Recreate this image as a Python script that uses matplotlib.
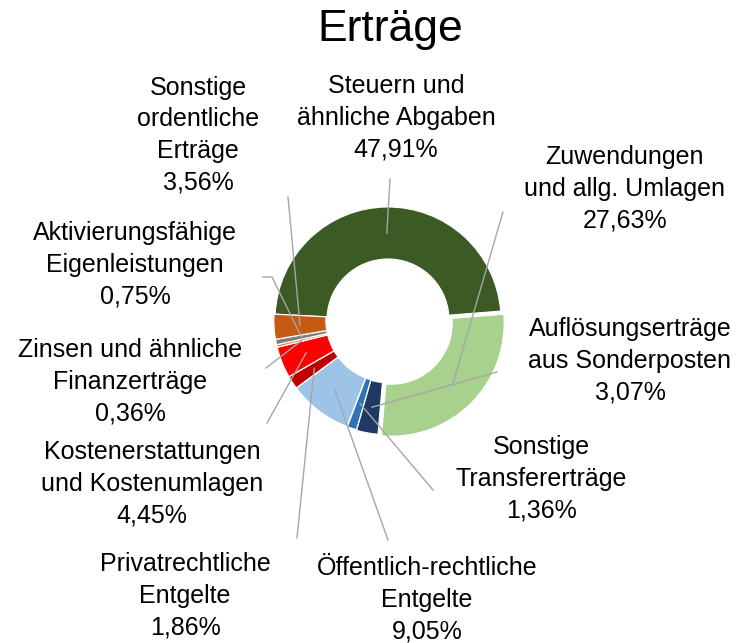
"""Erträge donut chart"""
import matplotlib.pyplot as plt
import numpy as np

plt.rcParams['font.family'] = ['Liberation Sans', 'DejaVu Sans']

# data
labels = ['Steuern und\nähnliche Abgaben',
          'Zuwendungen\nund allg. Umlagen',
          'Auflösungserträge\naus Sonderposten',
          'Sonstige\nTransfererträge',
          'Öffentlich-rechtliche\nEntgelte',
          'Privatrechtliche\nEntgelte',
          'Kostenerstattungen\nund Kostenumlagen',
          'Zinsen und ähnliche\nFinanzerträge',
          'Aktivierungsfähige\nEigenleistungen',
          'Sonstige\nordentliche\nErträge']
values = [47.91, 27.63, 3.07, 1.36, 9.05, 1.86, 4.45, 0.36, 0.75, 3.56]
colors = ['#3B5A24', '#A9D18E', '#1F3864', '#2E75B6', '#9DC3E6',
          '#C00000', '#FF0000', '#ED7D31', '#7F7F7F', '#C55A11']

# layout (pixel positions in a 738x643 canvas)
CX, CY, R = 388, 320, 113
text_pos = [(396, 118), (625, 189), (630, 361), (541, 479), (427, 600),
            (185, 596), (152, 484), (130, 382), (135, 265), (198, 135)]
line_start = [(390, 179), (503, 212), (497, 372), (433, 490), (388, 540),
              (297, 538), (267, 423), (266, 368), (263, 277), (288, 197)]
explode = [0, 0.04, 0.015, 0.01, 0.01, 0.01, 0.01, 0.01, 0.01, 0.01]


def px(x, y):
    return (x - CX) / R, (CY - y) / R


fig = plt.figure(figsize=(7.38, 6.43), dpi=100)
ax = fig.add_axes([0, 0, 1, 1])

start = 177
ax.pie(values, colors=colors, startangle=start, counterclock=False,
       explode=explode, radius=1,
       wedgeprops=dict(width=0.46, edgecolor='white', linewidth=0.8))

cum = np.cumsum(values) - np.array(values) / 2
for i, (lab, v) in enumerate(zip(labels, values)):
    ang = np.deg2rad(start - cum[i] / 100 * 360)
    r = 0.77 + explode[i]
    wx, wy = r * np.cos(ang), r * np.sin(ang)
    sx, sy = px(*line_start[i])
    if i == 8:
        mx, my = px(272, 277)
        ax.plot([sx, mx, wx], [sy, my, wy], color='#A6A6A6', lw=1)
    else:
        ax.plot([sx, wx], [sy, wy], color='#A6A6A6', lw=1)
    tx, ty = px(*text_pos[i])
    txt = lab + '\n' + f'{v:.2f}'.replace('.', ',') + '%'
    ax.text(tx, ty, txt, ha='center', va='center', fontsize=18,
            linespacing=1.4, color='black')

tx, ty = px(390, 29)
ax.text(tx, ty, 'Erträge', ha='center', va='center', fontsize=32)

ax.set_xlim(-CX / R, (738 - CX) / R)
ax.set_ylim(-(643 - CY) / R, CY / R)
ax.set_aspect('equal')
ax.axis('off')

plt.savefig('out.png', dpi=100)
plt.close()
